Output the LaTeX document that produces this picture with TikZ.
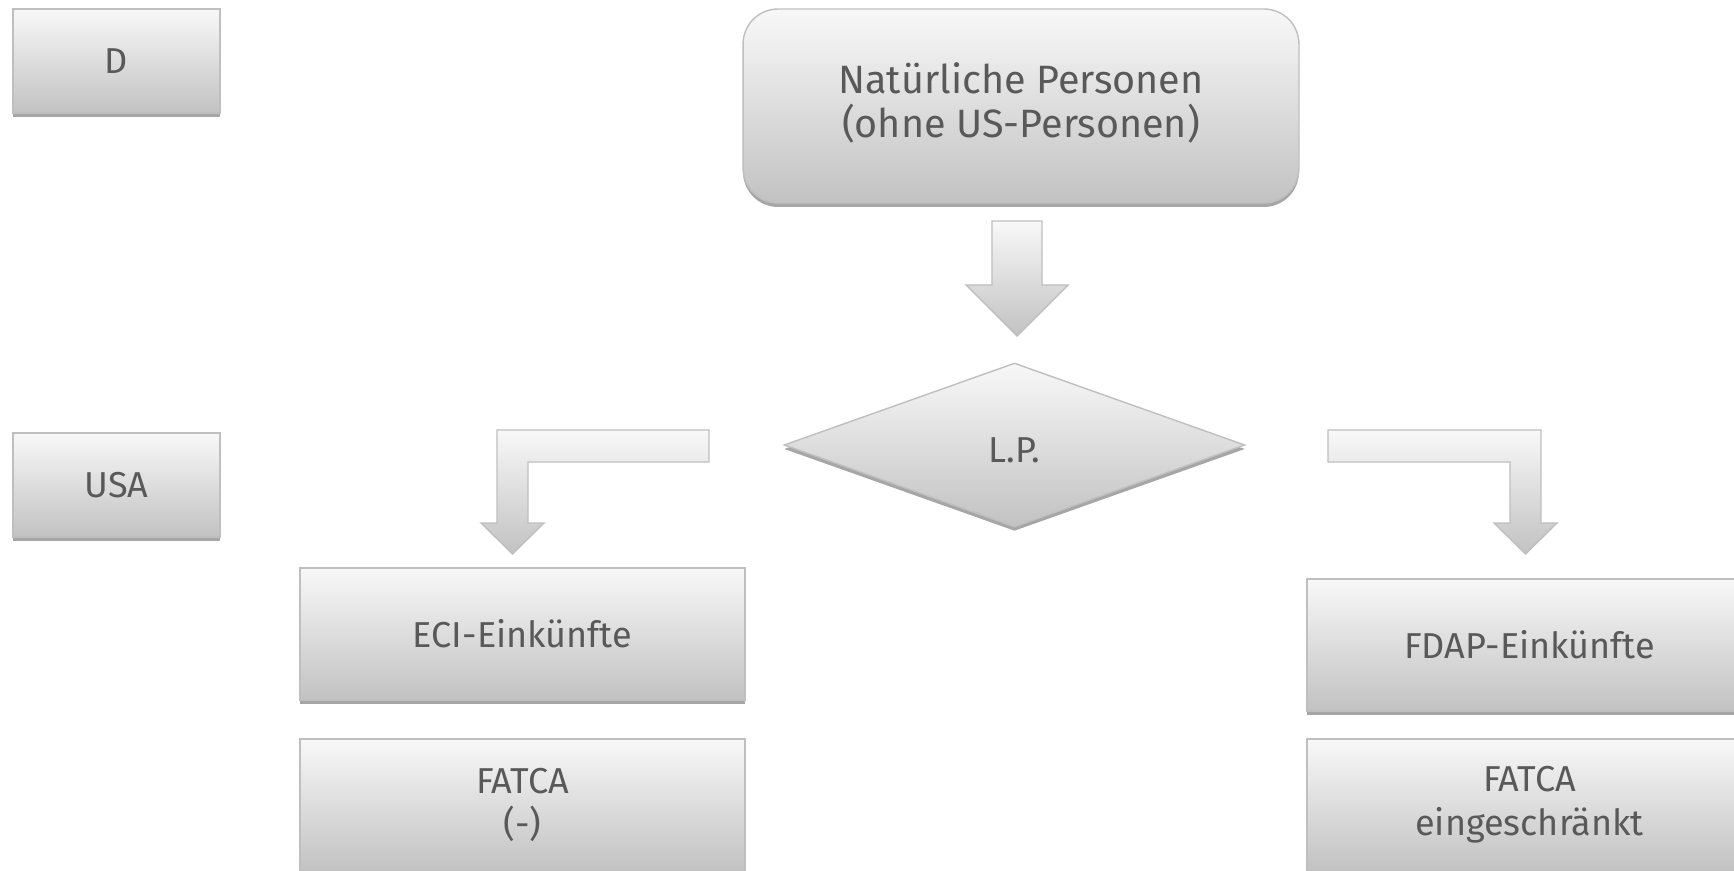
\documentclass[tikz,border=0pt]{standalone}
\usepackage{fontspec}
\setmainfont{Fira Sans}
\usetikzlibrary{shapes, positioning, shadows}

\definecolor{boxtop}{HTML}{F8F8F8}
\definecolor{boxbottom}{HTML}{C2C2C2}
\definecolor{boxline}{HTML}{BFBFBF}
\definecolor{boxshadow}{HTML}{A6A6A6}
\definecolor{labeltext}{HTML}{595959}

\begin{document}
\begin{tikzpicture}[
      x=0.02cm, y=-0.02cm,
      box/.style={draw=boxline, line width=0.8pt, top color=boxtop, bottom color=boxbottom,
        drop shadow={shadow xshift=0pt, shadow yshift=-0.08cm, fill=boxshadow, opacity=1},
        text=labeltext, font=\fontsize{20.5}{25}\selectfont, align=center, inner sep=0pt},
      country/.style={box, minimum width=4.14cm, minimum height=2.08cm},
      income/.style={box, minimum width=8.9cm, minimum height=2.64cm},
      block/.style={draw=boxline, line width=0.8pt, top color=boxtop, bottom color=boxbottom}
    ]
    \useasboundingbox (0,0) rectangle (1734,871);
    \clip (0,0) rectangle (1734,871);
    \node[country] (d) at (116.5,61) {D};
    \node[country] (usa) at (116.5,485) {USA};
    \node[box, rounded corners=0.7cm, minimum width=11.12cm, minimum height=3.88cm,
      font=\fontsize{22.5}{25}\selectfont, text depth=0.24cm] (persons) at (1021,106) {Natürliche Personen\\(ohne US-Personen)};
    \node[box, diamond, aspect=2.8, minimum width=9.22cm, minimum height=3.28cm,
      text height=0.7cm] (lp) at (1014.5,445) {L.P.};
    \node[income] (eci) at (522.5,634) {ECI-Einkünfte};
    \node[income] (fdap) at (1529.5,645) {FDAP-Einkünfte};
    \node[income] (fatcaeci) at (522.5,805) {FATCA\\(-)};
    \node[income] (fatcafdap) at (1529.5,805) {FATCA\\eingeschränkt};
    \draw[block] (992,221) -- (1042,221) -- (1042,285) -- (1068,285) -- (1017,336)
      -- (966,285) -- (992,285) -- cycle;
    \draw[block] (709,430) -- (497,430) -- (497,523) -- (481,523) -- (512.5,554)
      -- (544,523) -- (528,523) -- (528,462) -- (709,462) -- cycle;
    \draw[block] (1328,430) -- (1541,430) -- (1541,523) -- (1557,523) -- (1525.5,554)
      -- (1494,523) -- (1510,523) -- (1510,462) -- (1328,462) -- cycle;
\end{tikzpicture}
\end{document}
